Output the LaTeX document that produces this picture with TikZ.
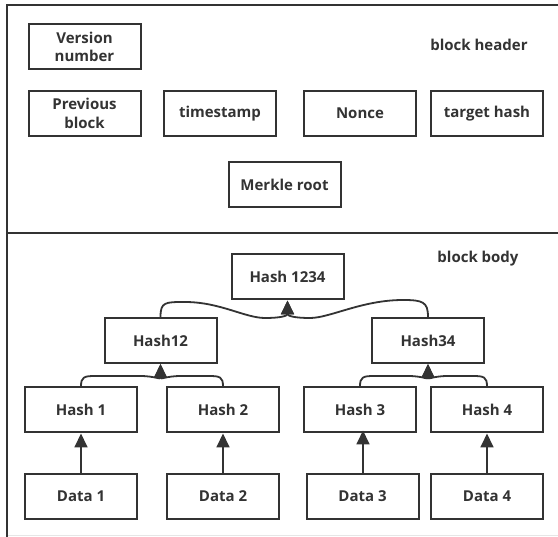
\documentclass[tikz,border=0pt]{standalone}
\usepackage{fontspec}
\setmainfont{Open Sans}
\usetikzlibrary{arrows.meta}
\definecolor{ink}{HTML}{333333}
\definecolor{faint}{HTML}{E6E6E6}
\begin{document}
\begin{tikzpicture}[x=1pt,y=-1pt,
  box/.style={draw=ink,line width=2pt,minimum width=112pt,minimum height=45pt,inner sep=0pt,align=center,
    font=\fontsize{15}{18.5}\selectfont\bfseries,text=ink},
  lbl/.style={font=\fontsize{15}{18.5}\selectfont\bfseries,text=ink,inner sep=0pt},
  frame/.style={draw=ink,line width=2.6pt},
  arr/.style={draw=ink,line width=1.8pt,-{Triangle[width=13pt,length=14pt]}}]
\useasboundingbox (0,0) rectangle (558,537);
\fill[white] (0,0) rectangle (558,537);
% frame
\coordinate (tl) at (7,5);
\coordinate (tr) at (558,5);
\coordinate (ml) at (7,233);
\coordinate (mr) at (558,233);
\coordinate (bl) at (7,537);
\coordinate (bll) at (7,535.5);
\coordinate (brr) at (558,535.5);
\draw[faint,line width=1pt] (bll) -- (brr);
\draw[frame] (tr) -- (tl) -- (bl);
\draw[frame] (ml) -- (mr);
% header
\node[box] (ver) at (84.5,47) {Version\\number};
\node[box] (prev) at (84.5,113.5) {Previous\\block};
\node[box] (ts) at (220,113.5) {timestamp};
\node[box] (nonce) at (360,113.5) {Nonce};
\node[box] (tgt) at (487,113.5) {target hash};
\node[box] (mr) at (284.5,184.5) {Merkle root};
\node[lbl] (bh) at (479,45) {block header};
% body
\node[lbl] (bb) at (478,259) {block body};
\node[box] (h1234) at (287.5,277) {Hash 1234};
\node[box] (h12) at (160.5,340.5) {Hash12};
\node[box] (h34) at (428,340.5) {Hash34};
\node[box] (h1) at (81,410) {Hash 1};
\node[box] (h2) at (223,410) {Hash 2};
\node[box] (h3) at (360,410) {Hash 3};
\node[box] (h4) at (487,410) {Hash 4};
\node[box] (d1) at (81,496.5) {Data 1};
\node[box] (d2) at (223,496.5) {Data 2};
\node[box] (d3) at (362.5,496.5) {Data 3};
\node[box] (d4) at (487,496.5) {Data 4};
% data -> hash
\draw[arr] (d1.north) -- (h1.south);
\draw[arr] (d2.north) -- (h2.south);
\draw[arr] ([xshift=0.5pt]d3.north) -- ([xshift=0.5pt,yshift=3pt]d3.north |- h3.south);
\draw[arr] (d4.north) -- (h4.south);
% hash level 1 -> level 2
\draw[arr] (h1.north) .. controls (81,377) and (84,376) .. (95,376) -- (140,376)
  .. controls (155,376) and (160.5,380) .. (h12.south);
\draw[arr] (h2.north) .. controls (223,377) and (220,376) .. (209,376) -- (181,376)
  .. controls (166,376) and (160.5,380) .. (h12.south);
\draw[arr] (h3.north) .. controls (360,377) and (363,376) .. (374,376) -- (408,376)
  .. controls (423,376) and (428,380) .. (h34.south);
\draw[arr] (h4.north) .. controls (487,377) and (484,376) .. (473,376) -- (448,376)
  .. controls (433,376) and (428,380) .. (h34.south);
% level 2 -> root
\draw[arr] (h12.north) .. controls (160.5,302) and (165,302) .. (185,302)
  .. controls (220,302) and (245,318) .. (265,318)
  .. controls (280,318) and (287.5,316) .. (h1234.south);
\draw[arr] (h34.north) .. controls (428,302) and (423,300) .. (403,300)
  .. controls (362,300) and (330,318) .. (310,318)
  .. controls (295,318) and (287.5,316) .. (h1234.south);
\end{tikzpicture}
\end{document}
